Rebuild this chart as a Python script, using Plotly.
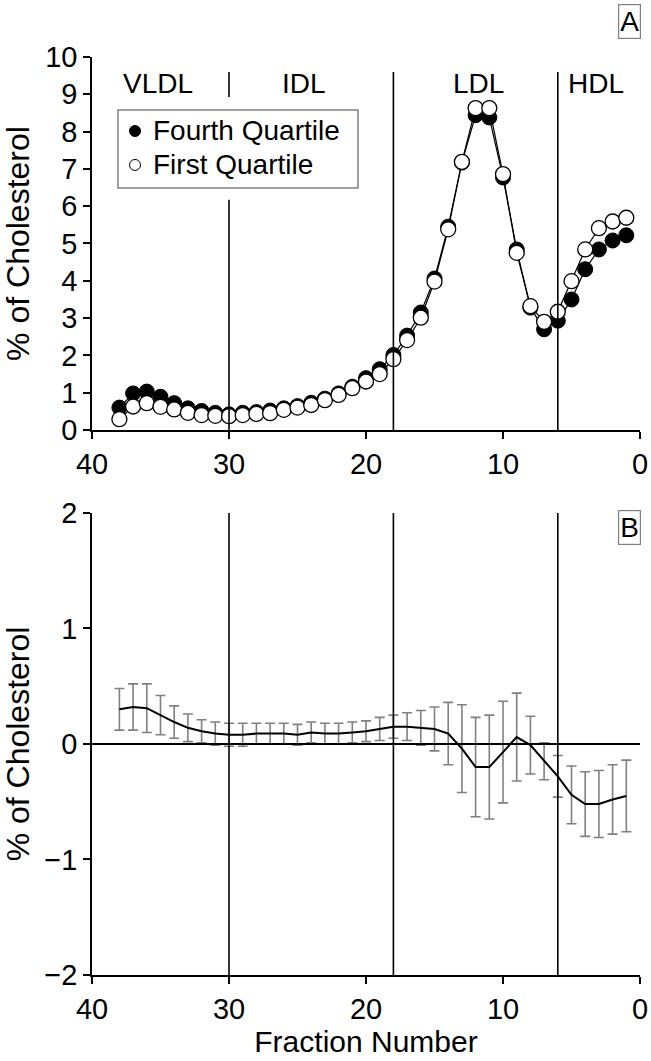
import plotly.graph_objects as go

# ---------------- data ----------------
fractions = [38, 37, 36, 35, 34, 33, 32, 31, 30, 29, 28, 27, 26, 25, 24, 23, 22, 21, 20,
             19, 18, 17, 16, 15, 14, 13, 12, 11, 10, 9, 8, 7, 6, 5, 4, 3, 2, 1]

fourth_quartile = [0.60, 0.98, 1.03, 0.89, 0.72, 0.58, 0.51, 0.46, 0.42, 0.46, 0.48, 0.52,
                   0.58, 0.64, 0.73, 0.84, 0.98, 1.16, 1.39, 1.63, 2.01, 2.53, 3.15, 4.06,
                   5.45, 7.17, 8.44, 8.38, 6.77, 4.84, 3.28, 2.70, 2.93, 3.50, 4.31, 4.84,
                   5.08, 5.22]

first_quartile = [0.29, 0.63, 0.72, 0.62, 0.55, 0.46, 0.40, 0.38, 0.37, 0.40, 0.43, 0.45,
                  0.54, 0.60, 0.67, 0.80, 0.94, 1.12, 1.30, 1.50, 1.90, 2.41, 3.01, 3.98,
                  5.38, 7.19, 8.63, 8.63, 6.86, 4.75, 3.32, 2.90, 3.17, 3.99, 4.84, 5.41,
                  5.59, 5.69]

diff_mean = [0.30, 0.32, 0.31, 0.25, 0.19, 0.14, 0.11, 0.09, 0.08, 0.08, 0.09, 0.09, 0.09,
             0.08, 0.10, 0.09, 0.09, 0.10, 0.11, 0.13, 0.15, 0.15, 0.14, 0.13, 0.09, -0.04,
             -0.20, -0.20, -0.07, 0.06, -0.01, -0.15, -0.28, -0.44, -0.52, -0.52, -0.48, -0.45]

diff_err = [0.18, 0.20, 0.21, 0.17, 0.14, 0.12, 0.10, 0.10, 0.10, 0.10, 0.09, 0.09, 0.09,
            0.09, 0.09, 0.09, 0.09, 0.09, 0.09, 0.10, 0.10, 0.12, 0.15, 0.19, 0.27, 0.38,
            0.43, 0.45, 0.44, 0.38, 0.25, 0.16, 0.18, 0.25, 0.28, 0.29, 0.30, 0.31]

boundaries = [30, 18, 6]
region_names = ["VLDL", "IDL", "LDL", "HDL"]
region_x = [35.2, 24.5, 11.8, 3.2]
legend_names = ["Fourth Quartile", "First Quartile"]
legend_fills = ["black", "white"]

FONT = "Liberation Sans, Arial, sans-serif"
FS = 29

fig = go.Figure()

# Panel A
fig.add_trace(go.Scatter(
    x=fractions, y=fourth_quartile, mode="lines+markers", name=legend_names[0],
    showlegend=False,
    line=dict(color="black", width=1.2),
    marker=dict(symbol="circle", size=15, color=legend_fills[0], line=dict(color="black", width=1)),
    xaxis="x", yaxis="y"))
fig.add_trace(go.Scatter(
    x=fractions, y=first_quartile, mode="lines+markers", name=legend_names[1],
    showlegend=False,
    line=dict(color="black", width=1.2),
    marker=dict(symbol="circle", size=15, color=legend_fills[1], line=dict(color="black", width=1.3)),
    xaxis="x", yaxis="y"))

# Panel B
fig.add_trace(go.Scatter(
    x=fractions, y=diff_mean, mode="lines", showlegend=False,
    line=dict(color="black", width=2),
    error_y=dict(type="data", array=diff_err, visible=True, color="#808080",
                 thickness=1.6, width=5),
    xaxis="x2", yaxis="y2"))

shapes = []
for b in boundaries:
    if b == 30:
        shapes.append(dict(type="line", xref="x", yref="y", x0=b, x1=b, y0=8.93, y1=9.6,
                           line=dict(color="black", width=1.6)))
        shapes.append(dict(type="line", xref="x", yref="y", x0=b, x1=b, y0=0, y1=6.17,
                           line=dict(color="black", width=1.6)))
    else:
        shapes.append(dict(type="line", xref="x", yref="y", x0=b, x1=b, y0=0, y1=9.6,
                           line=dict(color="black", width=1.6)))
    shapes.append(dict(type="line", xref="x2", yref="y2", x0=b, x1=b, y0=-2, y1=2,
                       line=dict(color="black", width=1.6)))

# zero line in panel B
shapes.append(dict(type="line", xref="x2", yref="y2", x0=40, x1=0, y0=0, y1=0,
                   line=dict(color="black", width=1.8)))

# legend box (drawn manually for exact layout)
shapes.append(dict(type="rect", xref="paper", yref="paper", x0=0.0474, x1=0.4854,
                   y0=0.8573, y1=0.9423, line=dict(color="#808080", width=1.5),
                   fillcolor="white", layer="above"))
annotations = []
legend_rows_y = [0.9194, 0.8824]
for name, fill, ly in zip(legend_names, legend_fills, legend_rows_y):
    shapes.append(dict(type="circle", xref="paper", yref="paper", xsizemode="pixel",
                       ysizemode="pixel", xanchor=0.0785, yanchor=ly,
                       x0=-5.5, x1=5.5, y0=-5.5, y1=5.5,
                       fillcolor=fill, line=dict(color="black", width=1)))
    annotations.append(dict(x=0.108, y=ly, xref="paper", yref="paper", text=name,
                            showarrow=False, xanchor="left", yanchor="middle",
                            font=dict(family=FONT, size=28, color="black")))

for name, xv in zip(region_names, region_x):
    annotations.append(dict(x=xv, y=9.3, xref="x", yref="y", text=name, showarrow=False,
                            font=dict(family=FONT, size=28, color="black")))
annotations.append(dict(x=0.98, y=1.039, xref="paper", yref="paper", text="A", showarrow=False,
                        xanchor="center", yanchor="middle",
                        font=dict(family=FONT, size=28, color="black"),
                        bordercolor="#808080", borderwidth=1.2, borderpad=1, bgcolor="white"))
annotations.append(dict(x=0.98, y=0.488, xref="paper", yref="paper", text="B", showarrow=False,
                        xanchor="center", yanchor="middle",
                        font=dict(family=FONT, size=28, color="black"),
                        bordercolor="#808080", borderwidth=1.2, borderpad=1, bgcolor="white"))

axis_common = dict(showline=True, linecolor="black", linewidth=1.6, ticks="outside",
                   ticklen=7, tickwidth=1.6, tickcolor="black", showgrid=False,
                   zeroline=False, mirror=False, automargin=False,
                   tickfont=dict(family=FONT, size=FS, color="black"))

fig.update_layout(
    width=651, height=1061,
    margin=dict(l=92, r=11, t=57, b=86),
    paper_bgcolor="white", plot_bgcolor="white",
    font=dict(family=FONT, size=FS, color="black"),
    showlegend=False,
    xaxis=dict(domain=[0, 1], anchor="y", range=[40, 0], tickvals=[40, 30, 20, 10, 0],
               **axis_common),
    yaxis=dict(domain=[0.5937, 1], anchor="x", range=[0, 10],
               tickvals=[0, 1, 2, 3, 4, 5, 6, 7, 8, 9, 10],
               title=dict(text="% of Cholesterol", font=dict(family=FONT, size=32), standoff=16),
               **axis_common),
    xaxis2=dict(domain=[0, 1], anchor="y2", range=[40, 0], tickvals=[40, 30, 20, 10, 0],
                title=dict(text="Fraction Number", font=dict(family=FONT, size=30), standoff=7),
                **axis_common),
    yaxis2=dict(domain=[0, 0.5033], anchor="x2", range=[-2, 2],
                tickvals=[-2, -1, 0, 1, 2], ticktext=["\u22122", "\u22121", "0", "1", "2"],
                title=dict(text="% of Cholesterol", font=dict(family=FONT, size=32), standoff=16),
                **axis_common),
    shapes=shapes,
    annotations=annotations,
)

fig.write_html(
    "out.html",
    config={"displayModeBar": False},
    post_script="document.body.style.margin='0';document.body.style.overflow='hidden';",
)
